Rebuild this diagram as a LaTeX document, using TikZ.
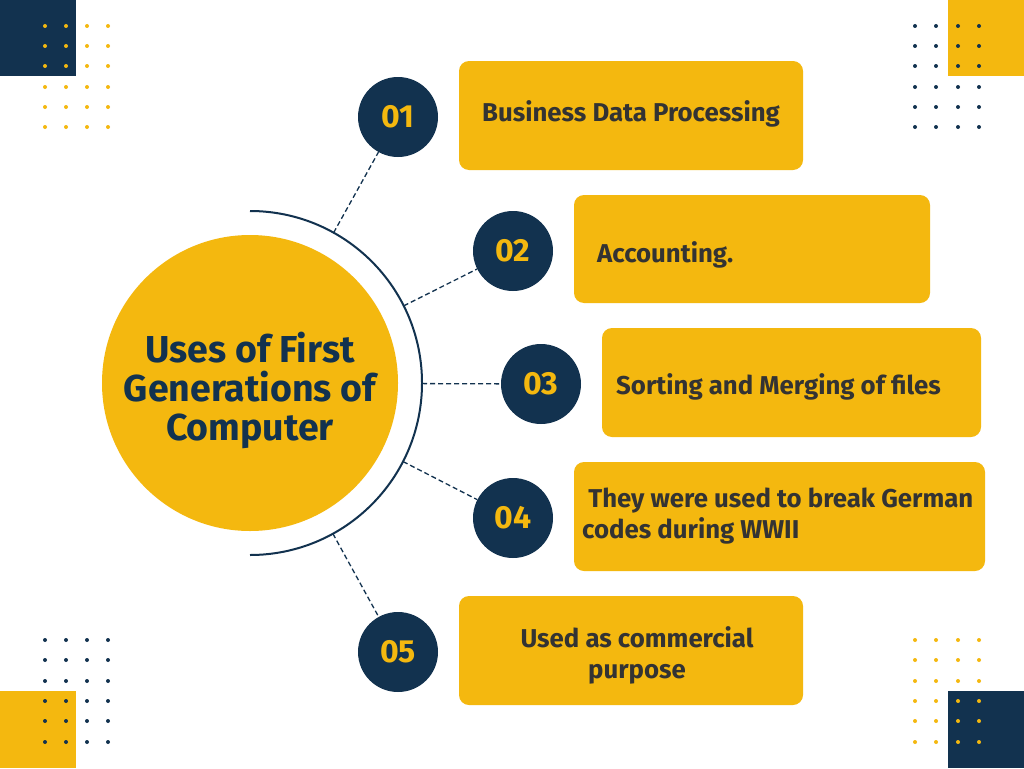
\documentclass[tikz,border=0pt]{standalone}
\usepackage{fontspec}
\setmainfont{Fira Sans}
\usetikzlibrary{calc}
\definecolor{navy}{HTML}{12324F}
\definecolor{gold}{HTML}{F4B80F}
\definecolor{ink}{HTML}{333333}

\begin{document}
\begin{tikzpicture}[x=1pt, y=-1pt,
  badge/.style={circle, fill=navy, minimum size=80pt, inner sep=0pt,
    text=gold, font=\fontsize{32}{32}\selectfont\bfseries},
  usebox/.style={rectangle, rounded corners=10pt, fill=gold, inner sep=0pt},
  usetext/.style={text=ink, font=\fontsize{25.8}{31}\selectfont\bfseries},
  link/.style={navy, line width=1.3pt, dash pattern=on 5pt off 3pt}]
\useasboundingbox (0, 0) rectangle (1024, 768);
\fill[white] (0, 0) rectangle (1024, 768);

% corner squares and dots
\fill[navy] (0, 0) rectangle (76, 76);
\fill[gold] (948, 0) rectangle (1024, 76);
\fill[gold] (0, 691) rectangle (76, 768);
\fill[navy] (948, 691) rectangle (1024, 768);
\foreach \x in {45, 66, 87, 108} {
  \foreach \y in {26, 46, 66, 87, 107, 127}
    \fill[gold] (\x, \y) circle (2pt);
  \foreach \y in {640, 660, 681, 701, 721, 742}
    \fill[navy] (\x, \y) circle (2pt);
}
\foreach \x in {915, 936, 958, 979} {
  \foreach \y in {26, 46, 66, 87, 107, 127}
    \fill[navy] (\x, \y) circle (2pt);
  \foreach \y in {640, 660, 681, 701, 721, 742}
    \fill[gold] (\x, \y) circle (2pt);
}

% hub
\node (hub) at (250, 383) [circle, fill=gold, minimum size=296pt, inner sep=0pt] {};
\node (title) at (250, 390) [text=navy, align=center,
  font=\fontsize{37.5}{39}\selectfont\bfseries]
  {Uses of First\\Generations of\\Computer};
\draw[navy, line width=2pt] (250, 211) arc (-90:90:172);

% badges
\node (b1) at (398, 117) [badge] {01};
\node (b2) at (513, 251) [badge] {02};
\node (b3) at (541, 384) [badge] {03};
\node (b4) at (513, 518) [badge] {04};
\node (b5) at (398, 652) [badge] {05};

% boxes
\node (t1) at (631, 115.5) [usebox, minimum width=344pt, minimum height=109pt] {};
\node (t2) at (752, 249) [usebox, minimum width=356pt, minimum height=108pt] {};
\node (t3) at (791.5, 382.5) [usebox, minimum width=379pt, minimum height=109pt] {};
\node (t4) at (779.5, 516.5) [usebox, minimum width=411pt, minimum height=109pt] {};
\node (t5) at (631, 650.5) [usebox, minimum width=344pt, minimum height=109pt] {};

\node (l1) at (631, 114) [usetext] {Business Data Processing};
\node (l2) at (597, 255) [usetext, anchor=west, inner sep=0pt] {Accounting.};
\node (l3) at (616, 387) [usetext, anchor=west, inner sep=0pt] {Sorting and Merging of files};
\node (l4) at (582, 516) [usetext, anchor=west, inner sep=0pt, align=left]
  {\ They were used to break German\\codes during WWII};
\node (l5) at (637, 655) [usetext, align=center] {Used as commercial\\purpose};

% dashed links from the ring
\foreach \i in {1, ..., 5}
  \coordinate (r\i) at ($(hub.center)!172pt!(b\i.center)$);
\foreach \i in {1, ..., 5}
  \draw[link] (r\i) -- (b\i);
\end{tikzpicture}
\end{document}
